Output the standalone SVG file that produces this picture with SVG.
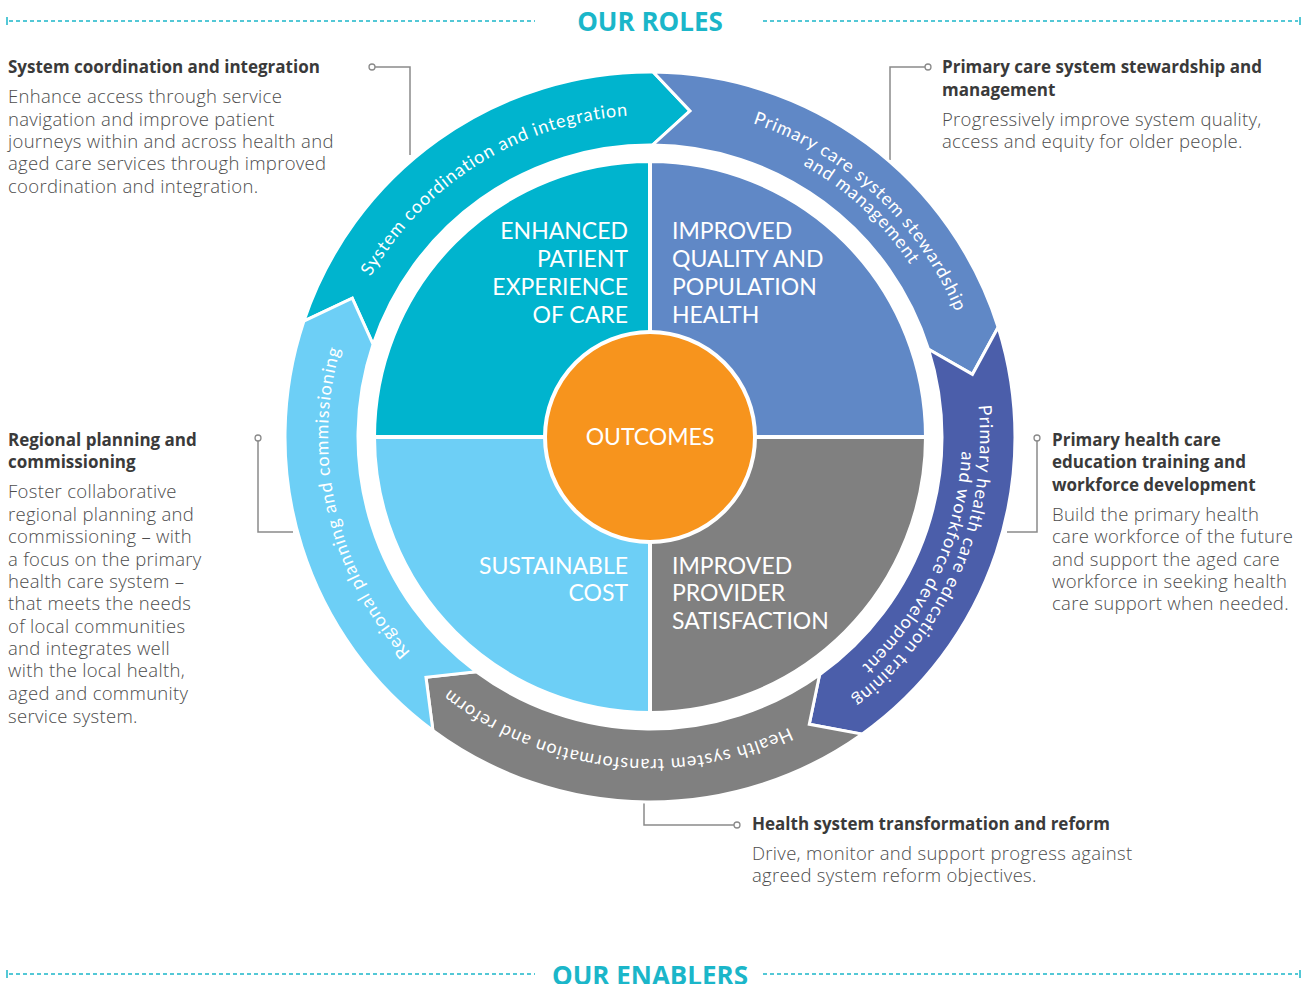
<svg xmlns="http://www.w3.org/2000/svg" width="1304" height="984" viewBox="0 0 1304 984">
<style>
.seg{stroke:#fff;stroke-width:3;stroke-linejoin:miter}
.quad{stroke:#fff;stroke-width:4}
.qt{font-family:Lato,"Open Sans",sans-serif;font-size:23px;fill:#fff}
.rt{font-family:Lato,"Open Sans",sans-serif;font-size:18px;fill:#fff;letter-spacing:0.9px}
.hd{font-family:"Open Sans","Liberation Sans",sans-serif;font-size:17px;font-weight:700;fill:#3a3a3a}
.bd{font-family:"Open Sans","Liberation Sans",sans-serif;font-size:18.5px;font-weight:300;fill:#4d4d4d;letter-spacing:0.3px}
.title{font-family:"Open Sans","Liberation Sans",sans-serif;font-size:26px;font-weight:700;fill:#1bb6c9}
.dash{stroke:#1bb6c9;stroke-width:1.5;stroke-dasharray:4 3;fill:none}
.tick{stroke:#1bb6c9;stroke-width:1.5}
.con{fill:none;stroke:#8a8a8a;stroke-width:1.5}
.dot{fill:#fff;stroke:#8a8a8a;stroke-width:1.3}
</style>
<defs>
<path id="pTeal" d="M 351.45 557.62 A 322 322 0 0 1 889.29 221.54"/>
<path id="pBlue1" d="M 451.40 173.45 A 330 330 0 0 1 926.76 616.73"/>
<path id="pBlue2" d="M 462.23 187.83 A 312 312 0 0 1 911.67 606.93"/>
<path id="pDark1" d="M 832.14 161.82 A 330 330 0 0 1 572.96 757.88"/>
<path id="pDark2" d="M 828.96 181.42 A 312 312 0 0 1 569.25 738.37"/>
<path id="pGray" d="M 958.74 528.45 A 322 322 0 0 1 328.60 456.66"/>
<path id="pLight" d="M 666.85 758.56 A 322 322 0 0 1 524.18 140.60"/>
</defs>

<g id="header-roles">
<line class="tick" x1="7" y1="17" x2="7" y2="25"/>
<line class="dash" x1="9" y1="21" x2="535" y2="21"/>
<line class="dash" x1="763" y1="21" x2="1298" y2="21"/>
<line class="tick" x1="1300" y1="17" x2="1300" y2="25"/>
<text class="title" x="650" y="31" text-anchor="middle">OUR ROLES</text>
</g>

<g id="header-enablers">
<line class="tick" x1="7" y1="970" x2="7" y2="978"/>
<line class="dash" x1="9" y1="974" x2="535" y2="974"/>
<line class="dash" x1="763" y1="974" x2="1298" y2="974"/>
<line class="tick" x1="1300" y1="970" x2="1300" y2="978"/>
<text class="title" x="650" y="985" text-anchor="middle">OUR ENABLERS</text>
</g>

<g id="connectors">
<polyline class="con" points="375,67 410,67 410,155"/>
<circle class="dot" cx="372" cy="67" r="3"/>
<polyline class="con" points="925,67 890,67 890,160"/>
<circle class="dot" cx="928" cy="67" r="3"/>
<polyline class="con" points="1037,441 1037,532 1007,532"/>
<circle class="dot" cx="1037" cy="438" r="3"/>
<polyline class="con" points="258,441 258,532 293,532"/>
<circle class="dot" cx="258" cy="438" r="3"/>
<polyline class="con" points="644,802 644,825 734,825"/>
<circle class="dot" cx="737" cy="825" r="3"/>
</g>

<g id="ring-coordination">
<path class="seg" fill="#00b4ce" d="M 303.86 321.18 A 365 365 0 0 1 653.19 72.01 L 690.03 110.95 L 652.55 145.01 A 292 292 0 0 0 373.09 344.35 L 352.28 298.17 Z"/>
<text class="rt"><textPath href="#pTeal" startOffset="50%" text-anchor="middle">System coordination and integration</textPath></text>
</g>
<g id="ring-stewardship">
<path class="seg" fill="#6088c6" d="M 653.19 72.01 A 365 365 0 0 1 998.11 327.24 L 972.46 374.32 L 928.49 349.19 A 292 292 0 0 0 652.55 145.01 L 690.03 110.95 Z"/>
<text class="rt"><textPath href="#pBlue1" startOffset="50%" text-anchor="middle">Primary care system stewardship</textPath></text>
<text class="rt"><textPath href="#pBlue2" startOffset="50%" text-anchor="middle">and management</textPath></text>
</g>
<g id="ring-workforce">
<path class="seg" fill="#4b5eaa" d="M 998.11 327.24 A 365 365 0 0 1 861.96 734.15 L 809.26 724.31 L 819.57 674.72 A 292 292 0 0 0 928.49 349.19 L 972.46 374.32 Z"/>
<text class="rt"><textPath href="#pDark1" startOffset="50%" text-anchor="middle">Primary health care education training</textPath></text>
<text class="rt"><textPath href="#pDark2" startOffset="50%" text-anchor="middle">and workforce development</textPath></text>
</g>
<g id="ring-reform">
<path class="seg" fill="#808080" d="M 861.96 734.15 A 365 365 0 0 1 432.89 730.41 L 425.96 677.25 L 476.31 671.73 A 292 292 0 0 0 819.57 674.72 L 809.26 724.31 Z"/>
<text class="rt"><textPath href="#pGray" startOffset="50%" text-anchor="middle">Health system transformation and reform</textPath></text>
</g>
<g id="ring-regional">
<path class="seg" fill="#6dcff6" d="M 432.89 730.41 A 365 365 0 0 1 303.86 321.18 L 352.28 298.17 L 373.09 344.35 A 292 292 0 0 0 476.31 671.73 L 425.96 677.25 Z"/>
<text class="rt"><textPath href="#pLight" startOffset="50%" text-anchor="middle">Regional planning and commissioning</textPath></text>
</g>

<g id="q-patient">
<path class="quad" fill="#00b4ce" d="M 650 437 L 374 437 A 276 276 0 0 1 650 161 Z"/>
<text class="qt" text-anchor="end"><tspan x="628" y="239">ENHANCED</tspan><tspan x="628" y="267">PATIENT</tspan><tspan x="628" y="295">EXPERIENCE</tspan><tspan x="628" y="323">OF CARE</tspan></text>
</g>
<g id="q-quality">
<path class="quad" fill="#6088c6" d="M 650 437 L 650 161 A 276 276 0 0 1 926 437 Z"/>
<text class="qt"><tspan x="672" y="239">IMPROVED</tspan><tspan x="672" y="267">QUALITY AND</tspan><tspan x="672" y="295">POPULATION</tspan><tspan x="672" y="323">HEALTH</tspan></text>
</g>
<g id="q-provider">
<path class="quad" fill="#808080" d="M 650 437 L 926 437 A 276 276 0 0 1 650 713 Z"/>
<text class="qt"><tspan x="672" y="574">IMPROVED</tspan><tspan x="672" y="601">PROVIDER</tspan><tspan x="672" y="629">SATISFACTION</tspan></text>
</g>
<g id="q-cost">
<path class="quad" fill="#6dcff6" d="M 650 437 L 650 713 A 276 276 0 0 1 374 437 Z"/>
<text class="qt" text-anchor="end"><tspan x="628" y="574">SUSTAINABLE</tspan><tspan x="628" y="601">COST</tspan></text>
</g>
<g id="outcomes">
<circle cx="650" cy="437" r="105" fill="#f7941d" stroke="#fff" stroke-width="4"/>
<text class="qt" x="650" y="445" text-anchor="middle">OUTCOMES</text>
</g>

<g id="callout-coordination">
<text class="hd" x="8" y="73">System coordination and integration</text>
<text class="bd"><tspan x="8" y="103">Enhance access through service</tspan><tspan x="8" y="126">navigation and improve patient</tspan><tspan x="8" y="148">journeys within and across health and</tspan><tspan x="8" y="170">aged care services through improved</tspan><tspan x="8" y="193">coordination and integration.</tspan></text>
</g>
<g id="callout-stewardship">
<text class="hd"><tspan x="942" y="73">Primary care system stewardship and</tspan><tspan x="942" y="96">management</tspan></text>
<text class="bd"><tspan x="942" y="126">Progressively improve system quality,</tspan><tspan x="942" y="148">access and equity for older people.</tspan></text>
</g>
<g id="callout-workforce">
<text class="hd"><tspan x="1052" y="446">Primary health care</tspan><tspan x="1052" y="468">education training and</tspan><tspan x="1052" y="491">workforce development</tspan></text>
<text class="bd"><tspan x="1052" y="521">Build the primary health</tspan><tspan x="1052" y="543">care workforce of the future</tspan><tspan x="1052" y="566">and support the aged care</tspan><tspan x="1052" y="588">workforce in seeking health</tspan><tspan x="1052" y="610">care support when needed.</tspan></text>
</g>
<g id="callout-regional">
<text class="hd"><tspan x="8" y="446">Regional planning and</tspan><tspan x="8" y="468">commissioning</tspan></text>
<text class="bd"><tspan x="8" y="498">Foster collaborative</tspan><tspan x="8" y="521">regional planning and</tspan><tspan x="8" y="543">commissioning – with</tspan><tspan x="8" y="566">a focus on the primary</tspan><tspan x="8" y="588">health care system –</tspan><tspan x="8" y="610">that meets the needs</tspan><tspan x="8" y="633">of local communities</tspan><tspan x="8" y="655">and integrates well</tspan><tspan x="8" y="677">with the local health,</tspan><tspan x="8" y="700">aged and community</tspan><tspan x="8" y="723">service system.</tspan></text>
</g>
<g id="callout-reform">
<text class="hd" x="752" y="830">Health system transformation and reform</text>
<text class="bd"><tspan x="752" y="860">Drive, monitor and support progress against</tspan><tspan x="752" y="882">agreed system reform objectives.</tspan></text>
</g>
</svg>
